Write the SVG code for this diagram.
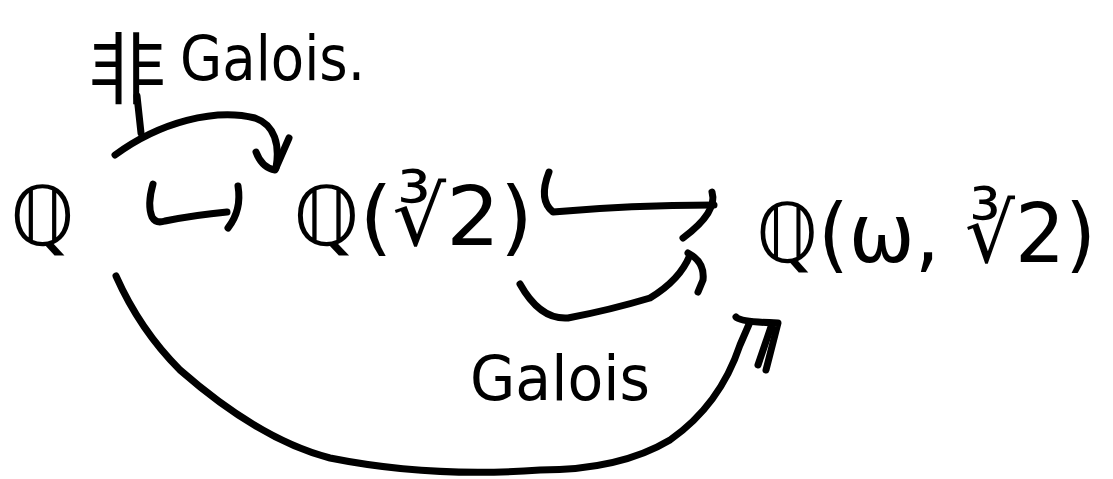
<svg xmlns="http://www.w3.org/2000/svg" width="1113" height="479" viewBox="0 0 1113 479">
<style>
.t{font-family:"DejaVu Sans","Noto Sans CJK SC",sans-serif;fill:#000}
.c{fill:none;stroke:#000;stroke-width:7;stroke-linecap:round;stroke-linejoin:round}
</style>
<rect width="1113" height="479" fill="#fff"/>
<g id="label-nongalois">
<text class="t" x="88" y="98" font-size="78">非</text>
<text class="t" x="180" y="80" font-size="62" textLength="185" lengthAdjust="spacingAndGlyphs">Galois.</text>
</g>
<g id="label-galois">
<text class="t" x="470" y="400" font-size="62" textLength="180" lengthAdjust="spacingAndGlyphs">Galois</text>
</g>
<g id="node-Q">
<text class="t" x="10" y="245" font-size="82">ℚ</text>
</g>
<g id="node-Q-cbrt2">
<text class="t" x="293" y="245" font-size="82" textLength="240" lengthAdjust="spacingAndGlyphs">ℚ(∛2)</text>
</g>
<g id="node-Q-omega-cbrt2">
<text class="t" x="756" y="262" font-size="82" textLength="340" lengthAdjust="spacingAndGlyphs">ℚ(ω, ∛2)</text>
</g>
<g id="connectors">
<!-- non-Galois arrow -->
<path class="c" d="M115,155 C160,122 215,108 255,118 C275,125 280,145 276,168"/>
<path class="c" d="M256,152 Q262,168 275,170 L289,138"/>
<path class="c" d="M137,96 L141,133"/>
<!-- hook arrow 1 -->
<path class="c" d="M153,184 Q147,205 152,217 Q156,224 165,221 Q195,215 227,212"/>
<path class="c" d="M238,186 Q242,210 228,228"/>
<!-- hook arrow 2 -->
<path class="c" d="M549,172 Q538,200 553,212 Q630,205 714,205"/>
<path class="c" d="M712,192 Q718,212 683,238"/>
<!-- small Galois arrow -->
<path class="c" d="M520,284 Q540,320 568,318 Q610,310 650,298 Q680,280 690,255"/>
<path class="c" d="M688,253 Q705,262 703,280 L698,292"/>
<!-- big arc -->
<path class="c" d="M116,276 Q140,330 180,370 Q260,440 330,458 Q430,478 540,470 Q620,470 670,440 Q720,405 740,345 L750,322"/>
<path class="c" d="M736,317 Q740,322 778,323 L766,370"/>
<path class="c" d="M772,324 L758,365"/>
</g>
</svg>
